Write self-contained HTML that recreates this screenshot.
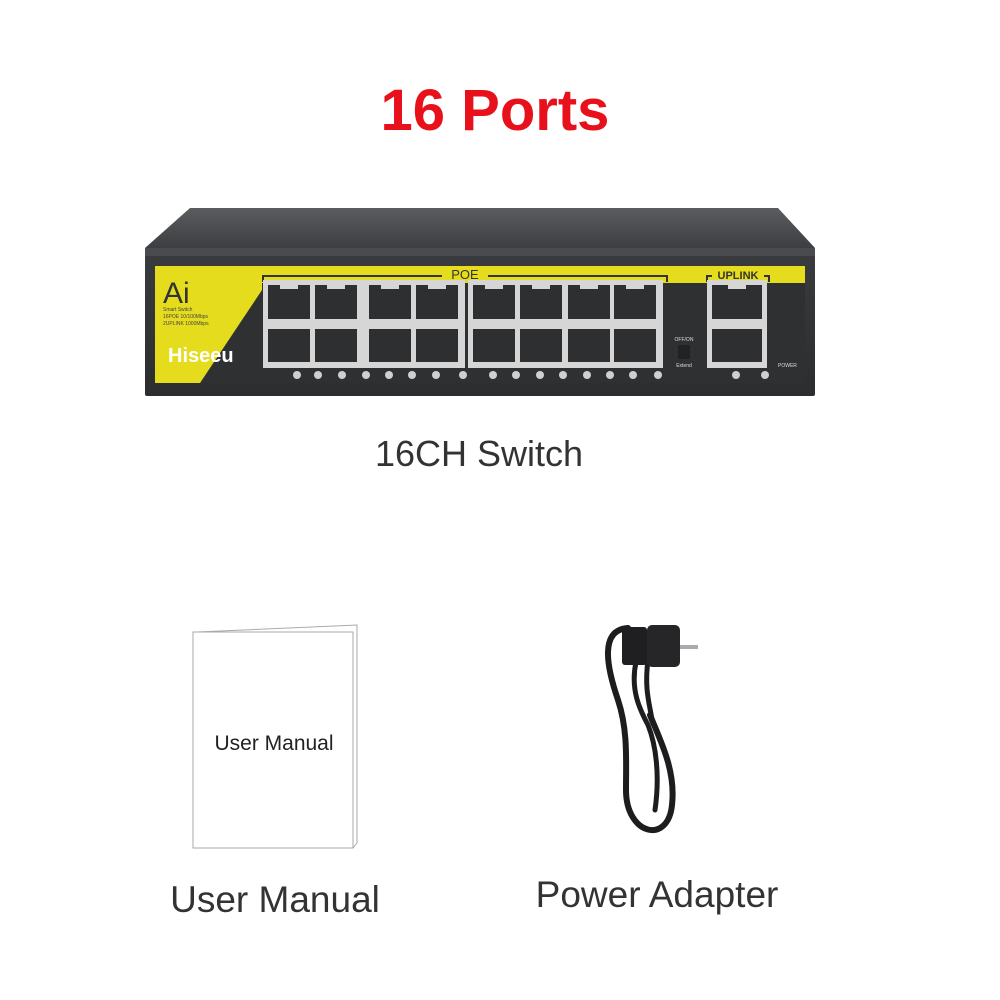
<!DOCTYPE html>
<html><head><meta charset="utf-8"><style>
html,body{margin:0;padding:0;background:#fff;}
svg{display:block}
text{font-family:"Liberation Sans",sans-serif}
</style></head><body>
<svg width="1000" height="1000" viewBox="0 0 1000 1000" xmlns="http://www.w3.org/2000/svg">
<defs>
<linearGradient id="top" x1="0" y1="0" x2="0" y2="1"><stop offset="0" stop-color="#5a5c5f"/><stop offset="1" stop-color="#3c3e41"/></linearGradient>
<linearGradient id="front" x1="0" y1="0" x2="0" y2="1"><stop offset="0" stop-color="#3a3b3e"/><stop offset="1" stop-color="#2c2d2f"/></linearGradient>
</defs>
<text x="495" y="130" text-anchor="middle" font-size="58" font-weight="bold" fill="#e8101a">16 Ports</text>
<!-- switch -->
<polygon points="190,208 778,208 815,248 145,248" fill="url(#top)"/>
<rect x="145" y="248" width="670" height="148" fill="url(#front)" rx="2"/>
<rect x="145" y="248" width="670" height="8" fill="#4a4b4e"/>
<polygon points="155,266 805,266 805,383 155,383" fill="#2f3032"/>
<polygon points="155,266 805,266 805,283 240,283 200,383 155,383" fill="#e6dc1e"/>
<polygon points="155,266 262,266 262,290 200,383 155,383" fill="#e6dc1e"/>
<text x="163" y="303" font-size="30" fill="#333">Ai</text>
<text x="163" y="311" font-size="5" fill="#444">Smart Switch</text>
<text x="163" y="318" font-size="5" fill="#444">16POE 10/100Mbps</text>
<text x="163" y="325" font-size="5" fill="#444">2UPLINK 1000Mbps</text>
<text x="168" y="362" font-size="20" font-weight="bold" fill="#fff">Hiseeu</text>
<path d="M263,282 V276 H442 M488,276 H667 V282" stroke="#333" stroke-width="2" fill="none"/>
<text x="465" y="279" text-anchor="middle" font-size="13" fill="#333">POE</text>
<path d="M707,282 V276 H712 M764,276 H769 V282" stroke="#333" stroke-width="2" fill="none"/>
<text x="738" y="279" text-anchor="middle" font-size="11" font-weight="bold" fill="#333">UPLINK</text>
<rect x="263" y="280" width="202" height="88" fill="#d6d6d6"/>
<rect x="468" y="280" width="195" height="88" fill="#d6d6d6"/>
<rect x="707" y="280" width="60" height="88" fill="#d6d6d6"/>
<g fill="#2e2f31">
<rect x="268" y="285" width="42" height="34"/><rect x="315" y="285" width="42" height="34"/><rect x="369" y="285" width="42" height="34"/><rect x="416" y="285" width="42" height="34"/>
<rect x="473" y="285" width="42" height="34"/><rect x="520" y="285" width="42" height="34"/><rect x="568" y="285" width="42" height="34"/><rect x="614" y="285" width="42" height="34"/>
<rect x="268" y="329" width="42" height="33"/><rect x="315" y="329" width="42" height="33"/><rect x="369" y="329" width="42" height="33"/><rect x="416" y="329" width="42" height="33"/>
<rect x="473" y="329" width="42" height="33"/><rect x="520" y="329" width="42" height="33"/><rect x="568" y="329" width="42" height="33"/><rect x="614" y="329" width="42" height="33"/>
<rect x="712" y="285" width="50" height="34"/><rect x="712" y="329" width="50" height="33"/>
</g>
<g fill="#d6d6d6">
<rect x="280" y="285" width="18" height="4"/><rect x="327" y="285" width="18" height="4"/><rect x="381" y="285" width="18" height="4"/><rect x="428" y="285" width="18" height="4"/>
<rect x="485" y="285" width="18" height="4"/><rect x="532" y="285" width="18" height="4"/><rect x="580" y="285" width="18" height="4"/><rect x="626" y="285" width="18" height="4"/>
<rect x="728" y="285" width="18" height="4"/>
</g>
<rect x="678" y="345" width="12" height="14" fill="#222"/>
<text x="684" y="341" text-anchor="middle" font-size="5" fill="#ddd">OFF/ON</text>
<text x="684" y="367" text-anchor="middle" font-size="5" fill="#ddd">Extend</text>
<text x="778" y="367" font-size="5" fill="#ddd">POWER</text>
<g fill="#cfcfcf">
<circle cx="297" cy="375" r="4"/><circle cx="318" cy="375" r="4"/><circle cx="342" cy="375" r="4"/><circle cx="366" cy="375" r="4"/><circle cx="389" cy="375" r="4"/><circle cx="412" cy="375" r="4"/><circle cx="436" cy="375" r="4"/><circle cx="463" cy="375" r="4"/>
<circle cx="493" cy="375" r="4"/><circle cx="516" cy="375" r="4"/><circle cx="540" cy="375" r="4"/><circle cx="563" cy="375" r="4"/><circle cx="587" cy="375" r="4"/><circle cx="610" cy="375" r="4"/><circle cx="633" cy="375" r="4"/><circle cx="658" cy="375" r="4"/>
<circle cx="736" cy="375" r="4"/><circle cx="765" cy="375" r="4"/>
</g>
<text x="479" y="466" text-anchor="middle" font-size="36" fill="#333">16CH Switch</text>
<!-- manual -->
<polygon points="197,632 357,625 357,843 353,848 197,848" fill="#fff" stroke="#aaa" stroke-width="1"/>
<polygon points="193,632 353,632 353,848 193,848" fill="#fff" stroke="#aaa" stroke-width="1"/>
<text x="274" y="750" text-anchor="middle" font-size="21" fill="#222">User Manual</text>
<text x="275" y="912" text-anchor="middle" font-size="37" fill="#333">User Manual</text>
<!-- cable -->
<g fill="none" stroke="#1d1d1f" stroke-linecap="round">
<path d="M628,628 C600,630 606,665 618,700 C628,730 626,760 626,790 C626,835 668,845 672,805 C676,770 660,740 650,715" stroke-width="6"/>
<path d="M636,662 C630,690 640,710 648,725 C656,745 660,775 655,810" stroke-width="5"/>
<path d="M648,660 C644,690 650,705 652,720" stroke-width="5"/>
</g>
<rect x="622" y="627" width="25" height="38" fill="#1f1f21" rx="3"/>
<rect x="647" y="625" width="33" height="42" fill="#262628" rx="5"/>
<rect x="680" y="645" width="18" height="4" fill="#aaa"/>
<text x="657" y="907" text-anchor="middle" font-size="37" fill="#333">Power Adapter</text>
</svg>
</body></html>
